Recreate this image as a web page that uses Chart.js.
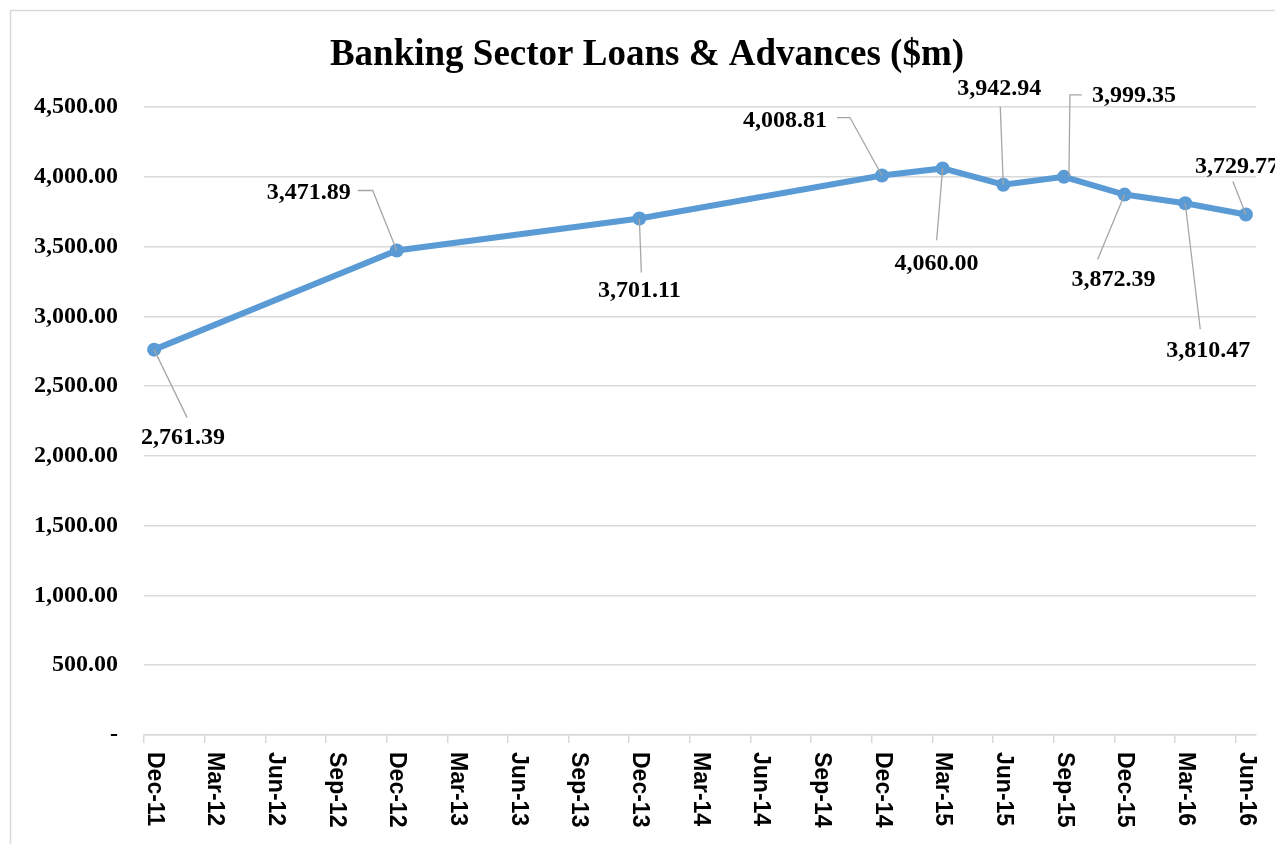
<!DOCTYPE html>
<html><head><meta charset="utf-8">
<script src="https://cdn.jsdelivr.net/npm/chart.js@4"></script>
<style>html,body{margin:0;padding:0;background:#fff;overflow:hidden}#wrap{width:1275px;height:844px;}</style>
</head><body><div id="wrap"><canvas id="c" width="1275" height="844"></canvas></div>
<script>
// ---- data ----
const chartTitle = 'Banking Sector Loans & Advances ($m)';
const tickLabels = ['Dec-11','Mar-12','Jun-12','Sep-12','Dec-12','Mar-13','Jun-13','Sep-13','Dec-13','Mar-14','Jun-14','Sep-14','Dec-14','Mar-15','Jun-15','Sep-15','Dec-15','Mar-16','Jun-16'];
const pointDates = ['Dec-11','Dec-12','Dec-13','Dec-14','Mar-15','Jun-15','Sep-15','Dec-15','Mar-16','Jun-16'];
const loans = [2761.39, 3471.89, 3701.11, 4008.81, 4060.00, 3942.94, 3999.35, 3872.39, 3810.47, 3729.77];
const yTicks = [0, 500, 1000, 1500, 2000, 2500, 3000, 3500, 4000, 4500];

// ---- layout of data labels (text offset and leader path, relative to the point, px) ----
const labelLayout = [
  {dx: 29, dy: 88, path: [[33, 68], [0, 0]]},
  {dx: -88, dy: -58, path: [[-39, -60], [-24, -60], [0, 0]]},
  {dx: 0, dy: 72, path: [[2, 54], [0, 0]]},
  {dx: -97, dy: -55, path: [[-45, -58], [-32, -58], [0, 0]]},
  {dx: -6, dy: 95, path: [[-6, 72], [0, 0]]},
  {dx: -4, dy: -96, path: [[-3, -78], [0, 0]]},
  {dx: 70, dy: -81, path: [[18, -82], [6, -82], [5, 0]]},
  {dx: -11, dy: 85, path: [[-27, 65], [0, 0]]},
  {dx: 23, dy: 148, path: [[15, 126], [0, 0]]},
  {dx: -9, dy: -48, path: [[-13, -33], [0, 0]]}
];

const monthsPerTick = 3;
const axisMonths = (tickLabels.length - 1) * monthsPerTick + 1;
const fmt = v => v.toLocaleString('en-US', {minimumFractionDigits: 2, maximumFractionDigits: 2});
const points = pointDates.map((d, i) => ({x: tickLabels.indexOf(d) * monthsPerTick + 0.5, y: loans[i]}));

const serif = "'Liberation Serif', 'Times New Roman', serif";
const sans = "'Liberation Sans', Arial, sans-serif";

const decor = {
  id: 'decor',
  beforeDraw(chart) {
    const ctx = chart.ctx;
    ctx.save();
    ctx.fillStyle = '#fff';
    ctx.fillRect(0, 0, chart.width, chart.height);
    ctx.strokeStyle = '#d9d9d9';
    ctx.lineWidth = 1.5;
    ctx.strokeRect(10.5, 10.5, 1400, 1000);
    ctx.restore();
  },
  afterDraw(chart) {
    const ctx = chart.ctx;
    const xs = chart.scales.x, ys = chart.scales.y;
    ctx.save();
    // title
    ctx.fillStyle = '#000';
    ctx.font = 'bold 37px ' + serif;
    ctx.textAlign = 'center';
    ctx.textBaseline = 'alphabetic';
    ctx.fillText(chartTitle, 647, 65);
    // x tick labels, rotated clockwise
    ctx.font = 'bold 23px ' + sans;
    ctx.textAlign = 'left';
    ctx.textBaseline = 'middle';
    tickLabels.forEach((lab, i) => {
      const px = xs.getPixelForValue(i * monthsPerTick + 0.5);
      ctx.save();
      ctx.translate(px, ys.bottom + 17);
      ctx.rotate(Math.PI / 2);
      ctx.fillText(lab, 0, 0);
      ctx.restore();
    });
    // leader lines and data labels
    const meta = chart.getDatasetMeta(0);
    ctx.strokeStyle = '#a6a6a6';
    ctx.lineWidth = 1.3;
    meta.data.forEach((el, i) => {
      const p = labelLayout[i].path;
      ctx.beginPath();
      ctx.moveTo(el.x + p[0][0], el.y + p[0][1]);
      for (let k = 1; k < p.length; k++) ctx.lineTo(el.x + p[k][0], el.y + p[k][1]);
      ctx.stroke();
    });
    ctx.font = 'bold 24px ' + serif;
    ctx.textAlign = 'center';
    ctx.textBaseline = 'middle';
    ctx.fillStyle = '#000';
    meta.data.forEach((el, i) => {
      const L = labelLayout[i];
      ctx.fillText(fmt(loans[i]), el.x + L.dx, el.y + L.dy);
    });
    ctx.restore();
  }
};

new Chart(document.getElementById('c'), {
  type: 'line',
  data: {
    datasets: [{
      data: points,
      borderColor: '#5b9bd5',
      backgroundColor: '#5b9bd5',
      borderWidth: 6,
      pointRadius: 7,
      pointBorderWidth: 0,
      pointBackgroundColor: '#5b9bd5',
      tension: 0,
      clip: false
    }]
  },
  options: {
    responsive: false,
    animation: false,
    devicePixelRatio: 1,
    layout: {padding: {left: 0, right: 19, top: 107, bottom: 0}},
    plugins: {legend: {display: false}, tooltip: {enabled: false}, title: {display: false}},
    scales: {
      x: {
        type: 'linear', min: 0, max: axisMonths,
        afterBuildTicks: s => { s.ticks = tickLabels.map((_, i) => ({value: i * monthsPerTick})); },
        afterFit: s => { s.height = 109; },
        ticks: {display: false},
        grid: {drawOnChartArea: false, drawTicks: true, tickLength: 8, color: '#d9d9d9', lineWidth: 1.5},
        border: {display: true, color: '#d9d9d9', width: 1.5}
      },
      y: {
        min: 0, max: 4500,
        afterBuildTicks: s => { s.ticks = yTicks.map(v => ({value: v})); },
        afterFit: s => { s.width = 144; },
        ticks: {
          padding: 26, color: '#000',
          font: {family: serif, weight: 'bold', size: 24},
          callback: v => v === 0 ? '-' : fmt(v)
        },
        grid: {color: '#d9d9d9', lineWidth: 1.5, drawTicks: false},
        border: {display: false}
      }
    }
  },
  plugins: [decor]
});
</script>
</body></html>
